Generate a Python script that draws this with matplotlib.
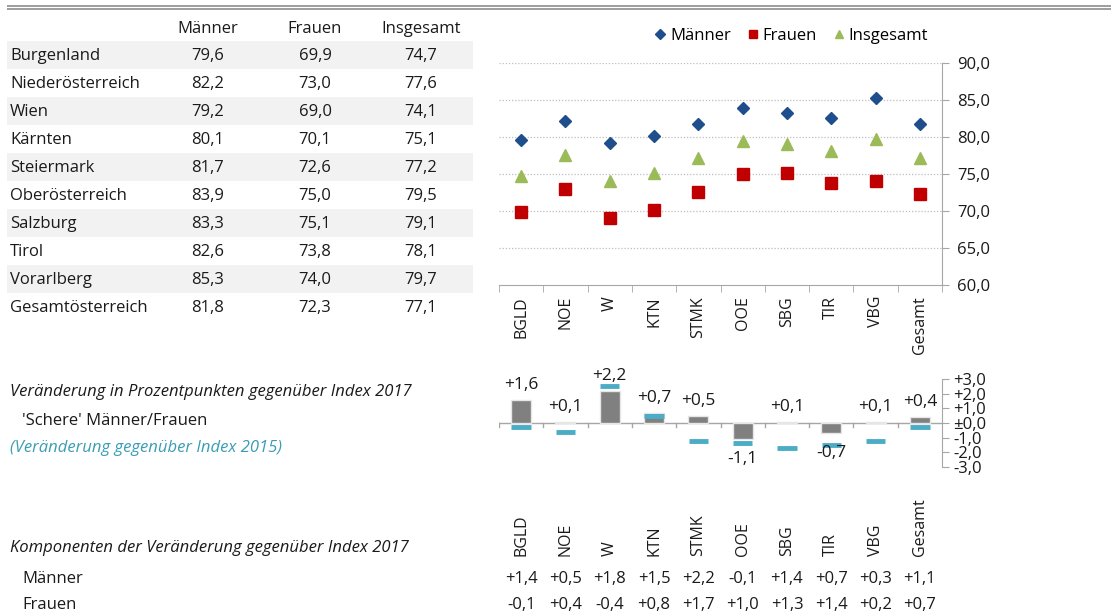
import numpy as np
import matplotlib
matplotlib.use('Agg')
import matplotlib.pyplot as plt
from matplotlib.ticker import FixedLocator, NullFormatter

plt.rcParams['font.family'] = ['Open Sans', 'DejaVu Sans']

# Data
regions = ['Burgenland', 'Niederösterreich', 'Wien', 'Kärnten', 'Steiermark',
           'Oberösterreich', 'Salzburg', 'Tirol', 'Vorarlberg', 'Gesamtösterreich']
codes = ['BGLD', 'NOE', 'W', 'KTN', 'STMK', 'OOE', 'SBG', 'TIR', 'VBG', 'Gesamt']
maenner = [79.6, 82.2, 79.2, 80.1, 81.7, 83.9, 83.3, 82.6, 85.3, 81.8]
frauen = [69.9, 73.0, 69.0, 70.1, 72.6, 75.0, 75.1, 73.8, 74.0, 72.3]
insgesamt = [74.7, 77.6, 74.1, 75.1, 77.2, 79.5, 79.1, 78.1, 79.7, 77.1]

schere_2017 = [1.6, 0.1, 2.2, 0.7, 0.5, -1.1, 0.1, -0.7, 0.1, 0.4]
schere_2015 = [-0.3, -0.6, 2.5, 0.5, -1.2, -1.35, -1.7, -1.5, -1.2, -0.3]

komp_maenner = [1.4, 0.5, 1.8, 1.5, 2.2, -0.1, 1.4, 0.7, 0.3, 1.1]
komp_frauen = [-0.1, 0.4, -0.4, 0.8, 1.7, 1.0, 1.3, 1.4, 0.2, 0.7]

scatter_ticks = [60, 65, 70, 75, 80, 85, 90]
bar_ticks = [3, 2, 1, 0, -1, -2, -3]
bar_ticklabels = ['+3,0', '+2,0', '+1,0', '±0,0', '-1,0', '-2,0', '-3,0']

navy = '#1f4e8c'
red = '#c00000'
green = '#9bbb59'
teal = '#4bacc6'
txt = '#1a1a1a'


def fmt(v, sign=False):
    s = f'{v:+.1f}' if sign else f'{v:.1f}'
    return s.replace('.', ',')


W, H = 1111, 614
fig = plt.figure(figsize=(W / 100, H / 100), dpi=100)


def box(x0, y0, x1, y1):
    return [x0 / W, 1 - y1 / H, (x1 - x0) / W, (y1 - y0) / H]


# overlay in pixel coordinates for the table and texts
bg = fig.add_axes([0, 0, 1, 1])
bg.set_xlim(0, W)
bg.set_ylim(H, 0)
bg.axis('off')

bg.hlines([6, 9], 7, W, color='#8c8c8c', lw=1.2)

fs = 12
col_x = [208, 315, 421]
for cx, head in zip(col_x, ['Männer', 'Frauen', 'Insgesamt']):
    bg.text(cx, 29, head, ha='center', va='center', fontsize=fs, color=txt)

for i, name in enumerate(regions):
    yc = 55 + 28 * i
    if i % 2 == 0:
        bg.add_patch(plt.Rectangle((7, yc - 14), 466, 28, color='#f2f2f2', lw=0))
    bg.text(10, yc + 1, name, ha='left', va='center', fontsize=fs, color=txt)
    for cx, vals in zip(col_x, [maenner, frauen, insgesamt]):
        bg.text(cx, yc + 1, fmt(vals[i]), ha='center', va='center', fontsize=fs, color=txt)

bg.text(10, 392, 'Veränderung in Prozentpunkten gegenüber Index 2017', style='italic',
        ha='left', va='center', fontsize=fs, color=txt)
bg.text(22, 421, "'Schere' Männer/Frauen", ha='left', va='center', fontsize=fs, color=txt)
bg.text(10, 448, '(Veränderung gegenüber Index 2015)', style='italic',
        ha='left', va='center', fontsize=fs, color='#3a9db5')
bg.text(10, 548, 'Komponenten der Veränderung gegenüber Index 2017', style='italic',
        ha='left', va='center', fontsize=fs, color=txt)
bg.text(22, 579, 'Männer', ha='left', va='center', fontsize=fs, color=txt)
bg.text(22, 605, 'Frauen', ha='left', va='center', fontsize=fs, color=txt)

x = np.arange(len(codes))

# Scatter chart
ax1 = fig.add_axes(box(499, 63, 942, 285))
ax1.plot(x, maenner, 'D', color=navy, ms=6.5, label='Männer', ls='none')
ax1.plot(x, frauen, 's', color=red, ms=8, label='Frauen', ls='none')
ax1.plot(x, insgesamt, '^', color=green, ms=8, label='Insgesamt', ls='none')
ax1.set_xlim(-0.5, len(codes) - 0.5)
ax1.set_ylim(60, 90)
ax1.yaxis.tick_right()
ax1.set_yticks(scatter_ticks)
ax1.set_yticklabels([fmt(v) for v in scatter_ticks], fontsize=fs, color=txt)
ax1.tick_params(axis='y', length=5, color='#a6a6a6', pad=6)
for v in scatter_ticks[1:]:
    ax1.axhline(v, color='#bfbfbf', lw=0.9, ls=(0, (1, 1.5)), zorder=0)
ax1.set_xticks(x)
ax1.set_xticklabels(codes, rotation=90, fontsize=fs - 0.5, color=txt, va='top')
ax1.tick_params(axis='x', length=0, pad=8)
ax1.xaxis.set_minor_locator(FixedLocator(np.arange(-0.5, len(codes), 1.0)))
ax1.xaxis.set_minor_formatter(NullFormatter())
ax1.tick_params(axis='x', which='minor', length=5, color='#a6a6a6', direction='out')
for s in ['top', 'left']:
    ax1.spines[s].set_visible(False)
ax1.spines['right'].set_color('#a6a6a6')
ax1.spines['bottom'].set_color('#a6a6a6')
ax1.set_facecolor('none')
fig.legend(*ax1.get_legend_handles_labels(), loc='center', bbox_to_anchor=(790 / W, 1 - 36 / H),
           ncol=3, frameon=False, fontsize=fs, handletextpad=0.1, columnspacing=0.8,
           handlelength=1.0, markerscale=0.8)

# Bar chart of the gap change
ax2 = fig.add_axes(box(499, 379, 942, 467))
ax2.bar(x, schere_2017, width=0.45, color='#808080', edgecolor='#e6e6e6', lw=1, zorder=2)
ax2.hlines(schere_2015, x - 0.22, x + 0.22, color=teal, lw=3.5, zorder=3)
for i, v in enumerate(schere_2017):
    if v >= 0:
        ax2.text(i, v + 1.0, fmt(v, True), ha='center', va='center', fontsize=fs + 0.5, color=txt)
    else:
        ax2.text(i, v - 1.35, fmt(v, True), ha='center', va='center', fontsize=fs + 0.5, color=txt)
ax2.set_xlim(-0.5, len(codes) - 0.5)
ax2.set_ylim(-3, 3)
ax2.axhline(0, color='#a6a6a6', lw=1, zorder=1)
ax2.yaxis.tick_right()
ax2.set_yticks(bar_ticks)
ax2.set_yticklabels(bar_ticklabels, fontsize=fs, color=txt)
ax2.tick_params(axis='y', length=5, color='#a6a6a6', pad=3)
ax2.set_xticks([])
ax2.spines['bottom'].set_visible(False)
for xb in np.arange(-0.5, len(codes) - 0.5, 1.0):
    ax2.plot([xb, xb], [0, -0.28], color='#a6a6a6', lw=1, zorder=1)
for s in ['top', 'left']:
    ax2.spines[s].set_visible(False)
ax2.spines['right'].set_color('#a6a6a6')
ax2.set_facecolor('none')

# Component labels
ax3 = fig.add_axes(box(499, 480, 942, 614))
ax3.set_xlim(-0.5, len(codes) - 0.5)
ax3.set_ylim(614, 480)
ax3.axis('off')
for i, c in enumerate(codes):
    ax3.text(i, 556, c, rotation=90, ha='center', va='bottom', fontsize=fs - 0.5, color=txt)
    ax3.text(i, 579, fmt(komp_maenner[i], True), ha='center', va='center', fontsize=fs, color=txt)
    ax3.text(i, 605, fmt(komp_frauen[i], True), ha='center', va='center', fontsize=fs, color=txt)

fig.savefig('out.png', dpi=100)
